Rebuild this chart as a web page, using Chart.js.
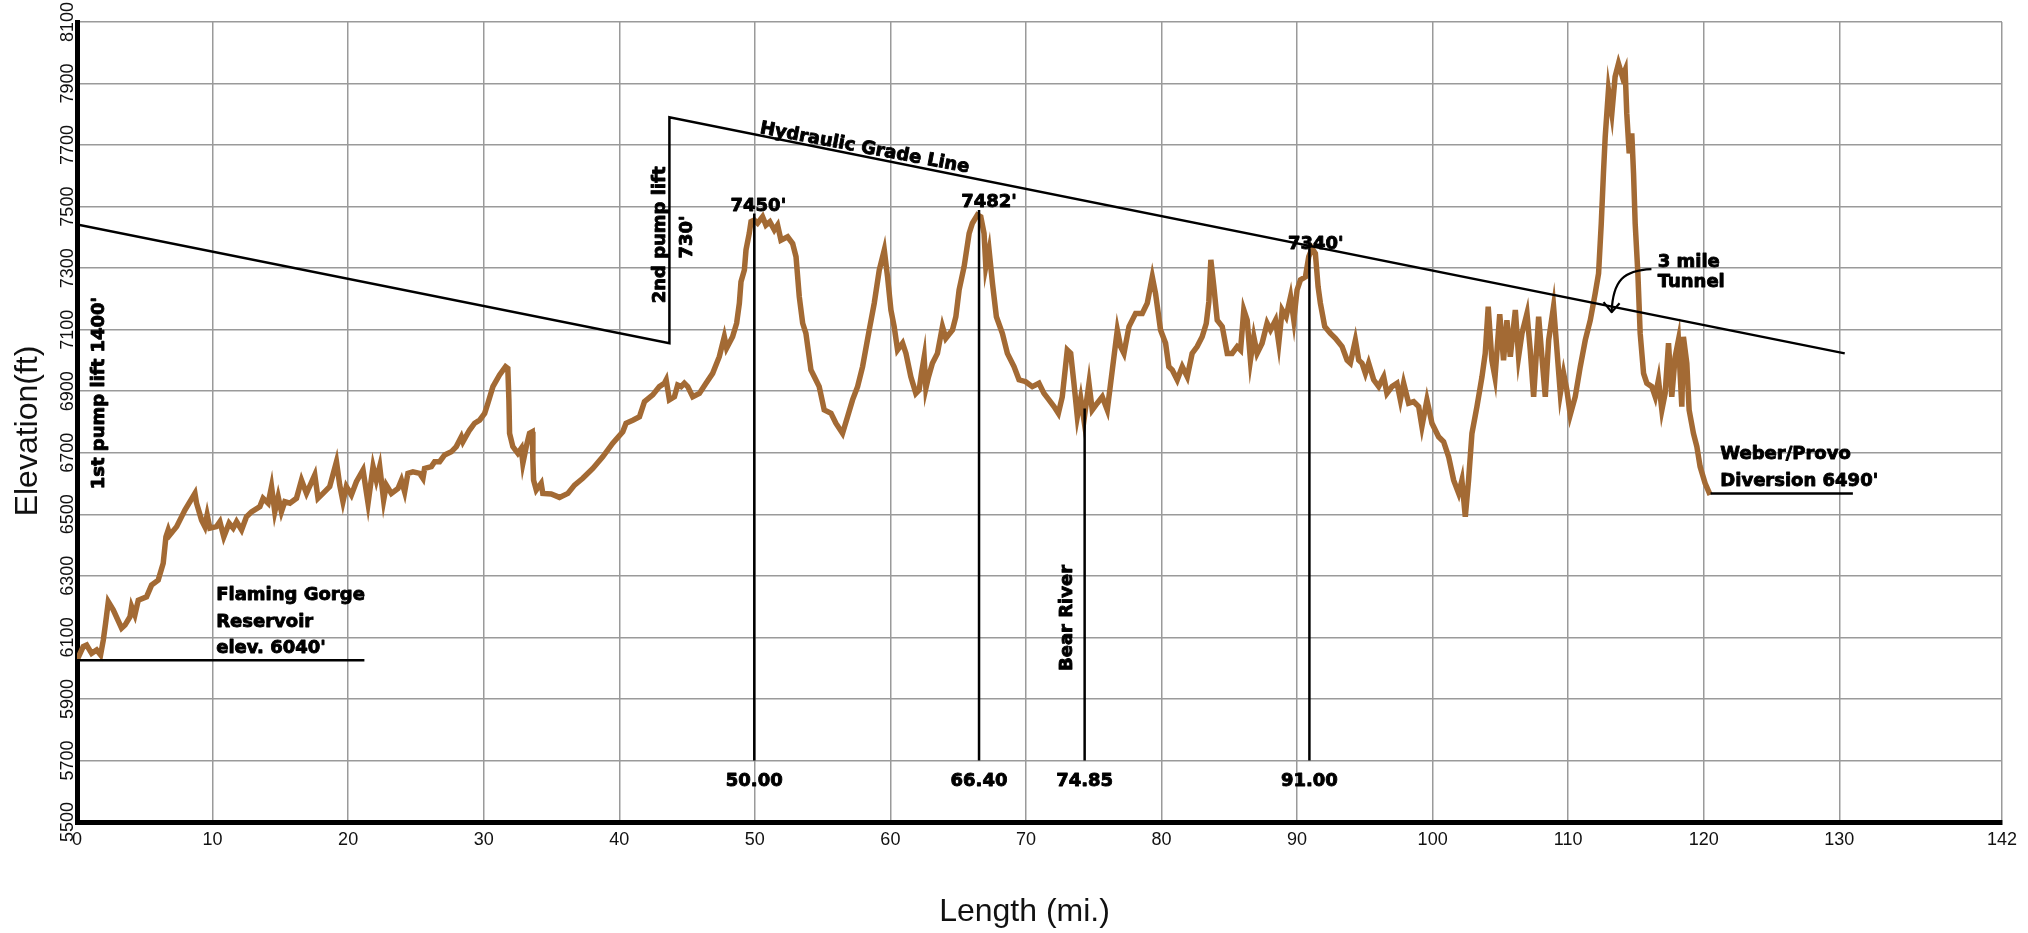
<!DOCTYPE html>
<html><head><meta charset="utf-8">
<script src="https://cdn.jsdelivr.net/npm/chart.js@4.4.1/dist/chart.umd.min.js"></script>
<style>html,body{margin:0;padding:0;background:#fff;}#wrap{width:2028px;height:933px;}</style>
</head><body><div id="wrap"><canvas id="c" width="2028" height="933"></canvas></div>
<script>
// ---- data (miles, feet) ----
const profile = [
[0,6026],[0.46,6070],[0.71,6075],[1.08,6048],[1.45,6059],[1.74,6043],[1.94,6091],[2.11,6146],[2.31,6216],[2.68,6189],
[3.29,6130],[3.54,6140],[3.91,6167],[4.03,6200],[4.27,6173],[4.52,6221],[5.13,6232],[5.5,6270],[5.99,6286],[6.36,6341],
[6.56,6427],[6.73,6449],[6.85,6433],[7.35,6460],[7.96,6514],[8.7,6568],[8.82,6536],[9.19,6481],[9.43,6460],[9.6,6498],
[9.8,6455],[10.29,6460],[10.54,6476],[10.83,6427],[11.22,6471],[11.52,6455],[11.77,6476],[12.14,6449],[12.5,6492],[12.87,6508],
[13.49,6525],[13.73,6552],[14.1,6536],[14.35,6590],[14.59,6508],[14.84,6557],[15.08,6508],[15.33,6541],[15.7,6536],[16.19,6552],
[16.56,6611],[16.93,6568],[17.54,6628],[17.78,6552],[18.15,6568],[18.64,6590],[19.14,6671],[19.38,6595],[19.62,6541],[19.87,6590],
[20.24,6563],[20.61,6606],[21.1,6644],[21.47,6536],[21.84,6655],[22.08,6611],[22.33,6655],[22.62,6546],[22.82,6595],[23.19,6568],
[23.68,6584],[23.93,6611],[24.17,6573],[24.41,6633],[24.78,6638],[25.28,6633],[25.52,6617],[25.64,6649],[26.14,6655],[26.38,6671],
[26.75,6671],[27.12,6693],[27.61,6703],[27.98,6720],[28.35,6752],[28.47,6736],[28.96,6774],[29.33,6796],[29.7,6806],[30.07,6828],
[30.31,6861],[30.68,6915],[31.17,6953],[31.61,6980],[31.78,6974],[31.86,6871],[31.91,6763],[32.15,6720],[32.52,6698],[32.77,6714],
[32.89,6666],[33.14,6720],[33.38,6763],[33.58,6768],[33.63,6676],[33.68,6611],[33.88,6579],[34.24,6601],[34.36,6568],[34.98,6566],
[35.59,6555],[36.21,6568],[36.7,6595],[37.31,6617],[38.05,6649],[38.78,6687],[39.52,6731],[40.26,6768],[40.5,6796],[41.0,6806],
[41.49,6817],[41.86,6866],[42.47,6888],[42.96,6915],[43.33,6926],[43.46,6937],[43.7,6872],[44.07,6882],[44.31,6920],[44.56,6915],
[44.8,6926],[45.05,6915],[45.42,6882],[45.91,6893],[46.4,6926],[46.89,6958],[47.38,7012],[47.75,7077],[47.92,7040],[48.36,7077],
[48.66,7121],[48.86,7186],[48.98,7256],[49.23,7294],[49.35,7359],[49.59,7413],[49.72,7451],[49.96,7456],[50.2,7446],[50.57,7467],
[50.82,7440],[51.11,7451],[51.44,7424],[51.68,7440],[51.93,7391],[52.42,7402],[52.79,7380],[53.04,7337],[53.28,7207],[53.53,7121],
[53.77,7088],[54.14,6969],[54.39,6947],[54.75,6915],[55.12,6839],[55.62,6828],[55.98,6796],[56.47,6763],[56.84,6817],[57.21,6872],
[57.58,6915],[57.95,6980],[58.44,7099],[58.81,7186],[59.18,7294],[59.55,7359],[59.79,7272],[60.04,7164],[60.28,7110],[60.53,7034],
[60.9,7056],[61.15,7023],[61.51,6947],[61.88,6893],[62.12,6904],[62.3,6960],[62.49,7010],[62.62,6910],[62.8,6945],[63.1,6991],
[63.47,7023],[63.84,7110],[64.09,7072],[64.58,7099],[64.83,7142],[65.07,7229],[65.44,7305],[65.81,7413],[66.05,7446],[66.42,7473],
[66.67,7467],[66.91,7413],[67.04,7305],[67.28,7359],[67.53,7251],[67.82,7142],[68.26,7088],[68.63,7023],[69.12,6980],[69.49,6937],
[69.98,6931],[70.47,6915],[70.96,6926],[71.33,6893],[71.7,6872],[72.07,6850],[72.39,6828],[72.68,6882],[73.05,7034],[73.3,7023],
[73.54,6926],[73.79,6817],[74.04,6877],[74.28,6806],[74.65,6926],[74.89,6839],[75.26,6861],[75.63,6882],[76.0,6839],[76.37,6969],
[76.74,7099],[76.98,7045],[77.23,7023],[77.6,7110],[78.09,7153],[78.58,7153],[78.95,7186],[79.32,7272],[79.56,7218],[79.93,7099],
[80.3,7056],[80.54,6980],[80.79,6969],[81.16,6937],[81.53,6980],[81.9,6947],[82.26,7023],[82.63,7045],[83.0,7077],[83.3,7120],
[83.49,7190],[83.64,7327],[83.86,7240],[84.11,7131],[84.48,7110],[84.85,7023],[85.21,7023],[85.58,7045],[85.83,7034],[86.07,7164],
[86.32,7131],[86.56,7001],[86.81,7077],[87.05,7023],[87.42,7056],[87.79,7121],[88.04,7099],[88.41,7131],[88.65,7056],[88.9,7164],
[89.19,7142],[89.52,7207],[89.76,7131],[90.0,7229],[90.25,7262],[90.62,7272],[90.86,7337],[91.11,7364],[91.35,7348],[91.55,7240],
[91.72,7186],[92.04,7110],[92.46,7088],[92.83,7072],[93.32,7045],[93.69,7001],[93.93,6991],[94.3,7066],[94.55,7001],[94.79,6991],
[95.04,6958],[95.28,6991],[95.65,6937],[96.02,6915],[96.39,6947],[96.63,6893],[97.0,6915],[97.37,6926],[97.62,6872],[97.86,6926],
[98.23,6861],[98.6,6866],[98.97,6850],[99.21,6785],[99.58,6872],[99.95,6796],[100.44,6752],[100.81,6736],[101.18,6687],[101.55,6611],
[101.92,6568],[102.16,6611],[102.41,6492],[102.65,6611],[102.9,6763],[103.27,6850],[103.64,6947],[103.88,7023],[104.1,7175],[104.37,7000],
[104.6,6945],[104.95,7150],[105.23,7001],[105.48,7131],[105.73,7012],[106.1,7164],[106.34,7012],[106.59,7088],[106.96,7153],[107.2,7034],
[107.45,6882],[107.82,7142],[108.06,7012],[108.31,6882],[108.56,7066],[108.92,7175],[109.42,6893],[109.66,6958],[109.9,6904],[110.15,6823],
[110.52,6882],[110.89,6980],[111.26,7066],[111.63,7131],[111.99,7218],[112.24,7283],[112.44,7446],[112.6,7608],[112.73,7727],[112.97,7879],
[113.22,7803],[113.46,7922],[113.71,7965],[114.0,7922],[114.2,7944],[114.32,7803],[114.5,7673],[114.69,7738],[114.82,7608],[114.94,7446],
[115.14,7283],[115.31,7088],[115.56,6958],[115.8,6926],[116.17,6915],[116.42,6882],[116.66,6937],[116.91,6839],[117.15,6893],[117.4,7056],
[117.64,6882],[117.89,7012],[118.13,7066],[118.38,6850],[118.5,7077],[118.75,6991],[118.92,6839],[119.24,6763],[119.49,6720],[119.73,6655],
[120.1,6601],[120.47,6563]
];
const hydraulicGrade = [[0,7442],[43.7,7056],[43.7,7790],[130.4,7023]];
const reservoirLine = [[0,6026],[21.2,6026]];
const diversionLine = [[120.5,6568],[131.0,6568]];
const markerMiles = [49.96, 66.54, 74.33, 90.91];
const markerTopElev = [7478, 7489, 6844, 7364];
const markerBaseElev = 5700;
const markerLabels = ['50.00', '66.40', '74.85', '91.00'];
const xMin = 0, xMax = 142, xStep = 10;
const yMin = 5500, yMax = 8100, yStep = 200;
const xTitle = 'Length (mi.)', yTitle = 'Elevation(ft)';

// ---- annotation text (data coordinates) ----
const BOLD = 'bold 18px "DejaVu Sans", Arial, sans-serif';
const notes = [
  {t:'Flaming Gorge', x:10.27, y:6221, a:'left'},
  {t:'Reservoir', x:10.27, y:6135, a:'left'},
  {t:"elev. 6040'", x:10.27, y:6048, a:'left'},
  {t:"7450'", x:50.26, y:7487, a:'center'},
  {t:"7482'", x:67.28, y:7500, a:'center'},
  {t:"7340'", x:91.38, y:7362, a:'center'},
  {t:'3 mile', x:116.6, y:7304, a:'left'},
  {t:'Tunnel', x:116.6, y:7239, a:'left'},
  {t:'Weber/Provo', x:121.22, y:6680, a:'left'},
  {t:"Diversion 6490'", x:121.22, y:6593, a:'left'},
  {t:"1st pump lift 1400'", x:1.62, y:6894, a:'center', rot:-90, base:'middle'},
  {t:'2nd pump lift', x:43.04, y:7408, a:'center', rot:-90, base:'middle'},
  {t:"730'", x:45.03, y:7401, a:'center', rot:-90, base:'middle'},
  {t:'Bear River', x:73.03, y:6163, a:'center', rot:-90, base:'middle'},
  {t:'Hydraulic Grade Line', x:50.33, y:7739, a:'left', rot:10.7}
];
const tunnelArrow = {start:[116.14,7297], c1:[114.1,7293], c2:[113.3,7262], tip:[113.2,7157]};

const toXY = arr => arr.map(p => ({x:p[0], y:p[1]}));
const markerSets = markerMiles.map((m,i) => ({
  data:[{x:m,y:markerBaseElev},{x:m,y:markerTopElev[i]}],
  borderColor:'#000', borderWidth:2.5, pointRadius:0, order:1
}));

function heavyText(ctx, s, x, y){
  ctx.fillText(s, x, y);
  ctx.strokeText(s, x, y);
}

const annoPlugin = {
  id:'anno',
  afterDatasetsDraw(chart){
    const {ctx, scales:{x, y}, chartArea} = chart;
    ctx.save();
    ctx.fillStyle = '#000'; ctx.strokeStyle = '#000'; ctx.lineWidth = 0.9; ctx.lineJoin = 'round';
    ctx.font = BOLD;
    notes.forEach(n => {
      const px = x.getPixelForValue(n.x), py = y.getPixelForValue(n.y);
      ctx.save();
      ctx.translate(px, py);
      if (n.rot) ctx.rotate(n.rot * Math.PI / 180);
      ctx.textAlign = n.a;
      ctx.textBaseline = n.base || 'alphabetic';
      heavyText(ctx, n.t, 0, 0);
      ctx.restore();
    });
    markerMiles.forEach((m,i) => {
      ctx.textAlign = 'center'; ctx.textBaseline = 'middle';
      heavyText(ctx, markerLabels[i], x.getPixelForValue(m), y.getPixelForValue(5633));
    });
    // tunnel arrow
    const P = p => [x.getPixelForValue(p[0]), y.getPixelForValue(p[1])];
    const s = P(tunnelArrow.start), c1 = P(tunnelArrow.c1), c2 = P(tunnelArrow.c2), t = P(tunnelArrow.tip);
    ctx.lineWidth = 2.2;
    ctx.beginPath(); ctx.moveTo(s[0], s[1]); ctx.bezierCurveTo(c1[0], c1[1], c2[0], c2[1], t[0], t[1]); ctx.stroke();
    ctx.beginPath(); ctx.moveTo(t[0]-8, t[1]-10); ctx.lineTo(t[0], t[1]); ctx.lineTo(t[0]+8, t[1]-9); ctx.stroke();
    // y tick labels, rotated
    ctx.font = '18px "Liberation Sans", Arial, sans-serif';
    ctx.fillStyle = '#111';
    y.ticks.forEach(tk => {
      ctx.save();
      ctx.translate(chartArea.left - 9, y.getPixelForValue(tk.value));
      ctx.rotate(-Math.PI/2);
      ctx.textAlign = 'center'; ctx.textBaseline = 'middle';
      ctx.fillText(String(tk.value), 0, 0);
      ctx.restore();
    });
    // axis titles
    ctx.font = '32px "Liberation Sans", Arial, sans-serif';
    ctx.textAlign = 'center'; ctx.textBaseline = 'middle';
    ctx.fillText(xTitle, (chartArea.left + chartArea.right) / 2 - 15, 912);
    ctx.save();
    ctx.translate(28, (chartArea.top + chartArea.bottom) / 2 + 9);
    ctx.rotate(-Math.PI/2);
    ctx.fillText(yTitle, 0, 0);
    ctx.restore();
    ctx.restore();
  }
};

new Chart(document.getElementById('c'), {
  type:'line',
  data:{datasets:[
    {data:toXY(hydraulicGrade), borderColor:'#000', borderWidth:2.5, pointRadius:0, order:1},
    {data:toXY(reservoirLine), borderColor:'#000', borderWidth:2.5, pointRadius:0, order:1},
    {data:toXY(diversionLine), borderColor:'#000', borderWidth:2.5, pointRadius:0, order:1},
    ...markerSets,
    {data:toXY(profile), borderColor:'#a36a34', borderWidth:5.5, pointRadius:0, tension:0, order:2}
  ]},
  options:{
    responsive:false, animation:false, devicePixelRatio:1,
    layout:{padding:{top:22, right:26, left:0, bottom:0}},
    plugins:{legend:{display:false}, tooltip:{enabled:false}},
    scales:{
      x:{type:'linear', min:xMin, max:xMax,
        ticks:{stepSize:xStep, autoSkip:false, maxRotation:0, padding:7, color:'#111', font:{family:'"Liberation Sans", Arial, sans-serif', size:18}},
        grid:{color:'#9a9a9a', lineWidth:1.5, drawTicks:false},
        border:{color:'#000', width:5},
        afterFit(s){ s.height = 111; }
      },
      y:{type:'linear', min:yMin, max:yMax,
        ticks:{stepSize:yStep, display:false},
        grid:{color:'#9a9a9a', lineWidth:1.5, drawTicks:false},
        border:{color:'#000', width:5},
        afterFit(s){ s.width = 77; }
      }
    }
  },
  plugins:[annoPlugin]
});
</script></body></html>
